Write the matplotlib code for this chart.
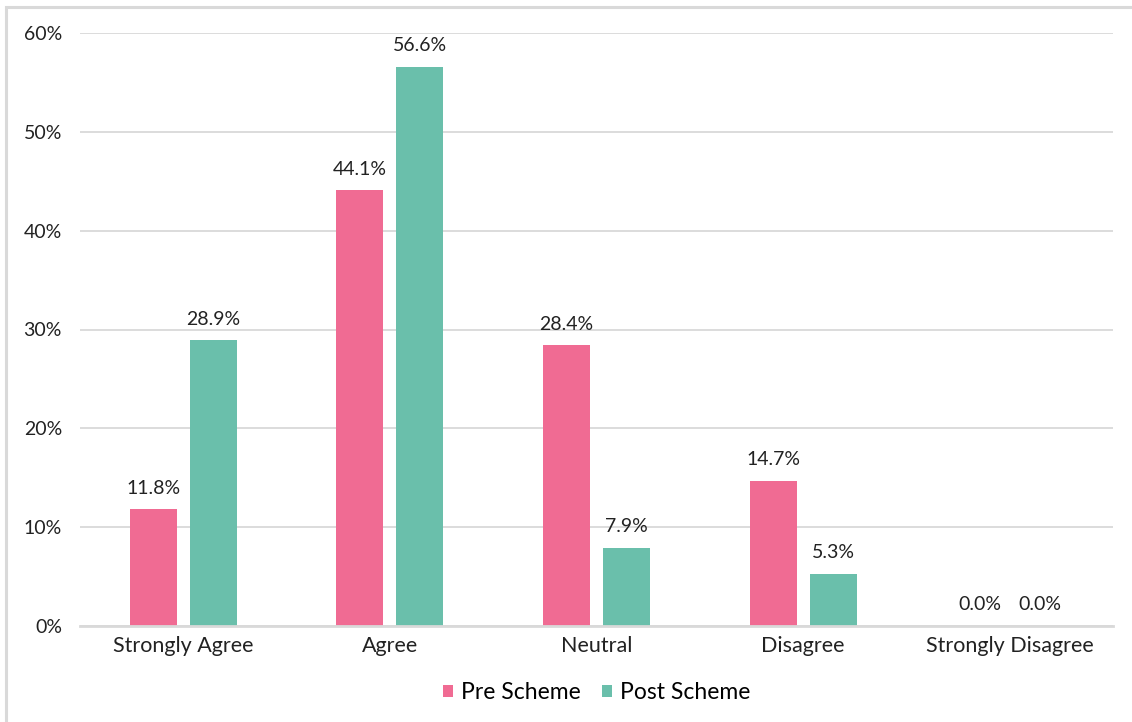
import numpy as np
import matplotlib
matplotlib.use("Agg")
import matplotlib.pyplot as plt
from matplotlib.patches import Rectangle

categories = ["Strongly Agree", "Agree", "Neutral", "Disagree", "Strongly Disagree"]
pre_scheme = [11.8, 44.1, 28.4, 14.7, 0.0]
post_scheme = [28.9, 56.6, 7.9, 5.3, 0.0]
series_names = ["Pre Scheme", "Post Scheme"]
colors = ["#F06B93", "#6ABFAB"]

plt.rcParams['font.family'] = ['Lato', 'DejaVu Sans']

fig = plt.figure(figsize=(11.32, 7.22), dpi=100)
ax = fig.add_axes([80 / 1132, 1 - 626 / 722, (1113 - 80) / 1132, (626 - 33) / 722])

# light frame round the whole chart
fig.patches.append(Rectangle((5.5 / 1132, -0.1), 1.2, 1 - 6.5 / 722 + 0.1,
                             transform=fig.transFigure, fill=False,
                             edgecolor="#D9D9D9", lw=2.2))

x = np.arange(len(categories))
w = 0.227
off = 0.145
b1 = ax.bar(x - off, pre_scheme, w, color=colors[0], label=series_names[0], zorder=3)
b2 = ax.bar(x + off, post_scheme, w, color=colors[1], label=series_names[1], zorder=3)

for bars, vals in ((b1, pre_scheme), (b2, post_scheme)):
    for r, v in zip(bars, vals):
        ax.annotate(f"{v:.1f}%", (r.get_x() + r.get_width() / 2, v),
                    xytext=(0, 9), textcoords="offset points",
                    ha="center", va="bottom", fontsize=14, color="#222222")

ax.set_xlim(-0.5, len(categories) - 0.5)
ax.set_ylim(0, 60)
ax.set_yticks(range(0, 61, 10))
ax.set_yticklabels([f"{t}%" for t in range(0, 61, 10)])
ax.set_xticks(x)
ax.set_xticklabels(categories)
ax.tick_params(axis="y", length=0, pad=13, labelsize=14, labelcolor="#222222")
ax.tick_params(axis="x", length=0, pad=7, labelsize=15.5, labelcolor="#222222")

ax.grid(axis="y", color="#D9D9D9", lw=1.3, zorder=0)
for s in ("top", "right", "left"):
    ax.spines[s].set_visible(False)
ax.spines["bottom"].set_color("#D9D9D9")
ax.spines["bottom"].set_linewidth(2)
ax.spines["bottom"].set_zorder(4)

ax.legend(loc="upper center", bbox_to_anchor=(0.5, -0.06), ncol=2, frameon=False,
          fontsize=16.5, handlelength=0.45, handleheight=0.45, handletextpad=0.35,
          columnspacing=0.9)

fig.savefig("out.png", dpi=100)
